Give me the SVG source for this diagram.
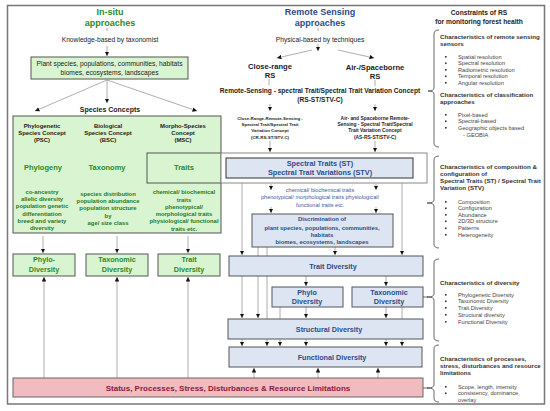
<svg xmlns="http://www.w3.org/2000/svg" width="550" height="411" viewBox="0 0 550 411">
<defs>
<marker id="ah" viewBox="0 0 6 6" refX="6" refY="3" markerWidth="4.5" markerHeight="4.5" markerUnits="userSpaceOnUse" orient="auto"><path d="M0,0 L6,3 L0,6 z" fill="#111"/></marker>
<style>
text{font-family:"Liberation Sans",Arial,sans-serif;text-anchor:middle}
.gt{fill:#2a8a2a;font-weight:bold}
.bt{fill:#2b4c8c;font-weight:bold}
.dk{fill:#222;font-weight:bold}
.gs{fill:#1f7a1f;font-weight:bold;font-size:5.9px}
.nt{fill:#222;font-size:6.7px}
.gbox{fill:#d9f4d0;stroke:#555;stroke-width:1}
.bbox{fill:#dde5f3;stroke:#555;stroke-width:1}
.ln{stroke:#999;stroke-width:0.8;fill:none}
.ar{stroke:#999;stroke-width:0.8;fill:none;marker-end:url(#ah)}
.rh{fill:#333;font-weight:bold;font-size:6.2px;text-anchor:start}
.rb{fill:#444;font-size:5.7px;text-anchor:start}
.br{stroke:#444;stroke-width:0.8;fill:none}
.bu{fill:#333}
</style>
</defs>
<rect x="7.5" y="5.5" width="537" height="398.5" fill="#fff" stroke="#777" stroke-width="1.5"/>

<g id="connectors">
<line class="ln" x1="107" y1="28" x2="107" y2="31"/>
<line class="ar" x1="107" y1="46" x2="107" y2="56"/>
<line class="ar" x1="107" y1="80" x2="35" y2="111"/>
<line class="ar" x1="107" y1="80" x2="107" y2="103"/>
<line class="ar" x1="107" y1="80" x2="197" y2="111"/>
<line class="ln" x1="41" y1="145" x2="41" y2="160"/>
<line class="ln" x1="107" y1="145" x2="107" y2="160"/>
<line class="ln" x1="183" y1="145" x2="183" y2="153"/>
<line class="ar" x1="41" y1="176" x2="41" y2="189"/>
<line class="ar" x1="107" y1="176" x2="107" y2="189"/>
<line class="ar" x1="183" y1="183" x2="183" y2="189"/>
<line class="ar" x1="43" y1="236" x2="43" y2="253"/>
<line class="ar" x1="117" y1="236" x2="117" y2="253"/>
<line class="ar" x1="188" y1="236" x2="188" y2="253"/>
<line class="ar" x1="44" y1="378" x2="44" y2="277"/>
<line class="ar" x1="117" y1="378" x2="117" y2="277"/>
<line class="ar" x1="188" y1="378" x2="188" y2="277"/>

<line class="ln" x1="318" y1="28" x2="318" y2="31"/>
<line class="ar" x1="318" y1="44" x2="318" y2="51"/>
<line class="ar" x1="312" y1="50" x2="277" y2="58"/>
<line class="ar" x1="338" y1="50" x2="374" y2="58"/>
<line class="ln" x1="269" y1="79" x2="269" y2="85"/>
<line class="ln" x1="375" y1="80" x2="375" y2="86"/>
<line class="ar" x1="270" y1="104" x2="270" y2="111"/>
<line class="ar" x1="375" y1="104" x2="375" y2="111"/>
<line class="ar" x1="270" y1="141" x2="270" y2="152"/>
<line class="ar" x1="375" y1="141" x2="375" y2="152"/>
<line class="ar" x1="271" y1="184" x2="271" y2="190"/>
<line class="ar" x1="376" y1="184" x2="376" y2="190"/>
<line class="ar" x1="271" y1="207" x2="271" y2="213"/>
<line class="ar" x1="376" y1="207" x2="376" y2="213"/>
<line class="ar" x1="242" y1="183" x2="242" y2="255"/>
<line class="ar" x1="402" y1="183" x2="402" y2="255"/>
<line class="ar" x1="335" y1="247" x2="335" y2="255"/>
<line class="ln" x1="258" y1="247" x2="258" y2="256"/>
<line class="ln" x1="267" y1="247" x2="267" y2="256"/>
<line class="ar" x1="242" y1="276" x2="242" y2="318"/>
<line class="ar" x1="258" y1="276" x2="258" y2="318"/>
<line class="ln" x1="267" y1="276" x2="267" y2="319"/>
<line class="ar" x1="306" y1="276" x2="306" y2="286"/>
<line class="ar" x1="386" y1="276" x2="386" y2="286"/>
<line class="ln" x1="280" y1="307" x2="280" y2="319"/>
<line class="ar" x1="306" y1="307" x2="306" y2="318"/>
<line class="ar" x1="386" y1="307" x2="386" y2="318"/>
<line class="ln" x1="402" y1="307" x2="402" y2="319"/>
<line class="ar" x1="242" y1="339" x2="242" y2="346"/>
<line class="ar" x1="267" y1="339" x2="267" y2="346"/>
<line class="ar" x1="280" y1="339" x2="280" y2="346"/>
<line class="ar" x1="306" y1="339" x2="306" y2="346"/>
<line class="ar" x1="386" y1="339" x2="386" y2="346"/>
<line class="ar" x1="402" y1="339" x2="402" y2="346"/>
<line class="ar" x1="254" y1="378" x2="254" y2="368"/>
<line class="ar" x1="318" y1="378" x2="318" y2="368"/>
<line class="ar" x1="378" y1="378" x2="378" y2="368"/>
<line class="br" x1="423" y1="297" x2="428" y2="297"/>
<line class="br" x1="423" y1="388" x2="428" y2="388"/>

<path class="br" d="M439,30 Q434,30 434,34 L434,88 Q434,91 428,91 Q434,91 434,94 L434,143 Q434,147 439,147"/>
<path class="br" d="M439,156 Q434,156 434,160 L434,200 Q434,203 427,203 Q434,203 434,206 L434,244 Q434,248 439,248"/>
<path class="br" d="M439,259 Q434,259 434,263 L434,294 Q434,297 427,297 Q434,297 434,300 L434,337 Q434,341 439,341"/>
<path class="br" d="M439,345 Q434,345 434,349 L434,385 Q434,388 427,388 Q434,388 434,391 L434,398 Q434,402 439,402"/>
</g>

<g id="insitu-title">
<text class="gt" x="110" y="15" font-size="9">In-situ</text>
<text class="gt" x="110" y="26" font-size="9">approaches</text>
<text class="nt" x="110" y="42.3">Knowledge-based by taxonomist</text>
</g>
<g id="plant-box">
<rect class="gbox" x="31" y="57" width="157" height="22"/>
<text class="nt" x="109.5" y="65.8">Plant species, populations, communities, habitats</text>
<text class="nt" x="109.5" y="75">biomes, ecosystems, landscapes</text>
</g>
<g id="species-concepts">
<text class="dk" x="110" y="111.5" font-size="7">Species  Concepts</text>
</g>
<g id="concepts-box">
<rect class="gbox" x="13" y="116" width="208" height="117"/>
<rect class="gbox" x="147" y="153" width="74" height="30"/>
<g font-size="5.9">
<text class="dk" x="42" y="128">Phylogenetic</text>
<text class="dk" x="42" y="135">Species Concept</text>
<text class="dk" x="42" y="142">(PSC)</text>
<text class="dk" x="108" y="128">Biological</text>
<text class="dk" x="108" y="135">Species Concept</text>
<text class="dk" x="108" y="142">(BSC)</text>
<text class="dk" x="183" y="128">Morpho-Species</text>
<text class="dk" x="183" y="135">Concept</text>
<text class="dk" x="183" y="142">(MSC)</text>
</g>
<text class="gt" x="43" y="169.6" font-size="7.5">Phylogeny</text>
<text class="gt" x="107" y="169.6" font-size="7.5">Taxonomy</text>
<text class="gt" x="184" y="169.6" font-size="7.5">Traits</text>
<text class="gs" x="42" y="194">co-ancestry</text>
<text class="gs" x="42" y="201">allelic diversity</text>
<text class="gs" x="42" y="208">population genetic</text>
<text class="gs" x="42" y="215.5">differentiation</text>
<text class="gs" x="42" y="222.5">breed and variety</text>
<text class="gs" x="42" y="229.5">diversity</text>
<text class="gs" x="108" y="196">species distribution</text>
<text class="gs" x="108" y="203">population abundance</text>
<text class="gs" x="108" y="210">population structure</text>
<text class="gs" x="108" y="217.5">by</text>
<text class="gs" x="108" y="225">age/ size class</text>
<text class="gs" x="184" y="194">chemical/ biochemical</text>
<text class="gs" x="184" y="201.5">traits</text>
<text class="gs" x="184" y="209">phenotypical/</text>
<text class="gs" x="184" y="216">morphological traits</text>
<text class="gs" x="184" y="223">physiological/ functional</text>
<text class="gs" x="184" y="231">traits etc.</text>
</g>
<g id="phylo-diversity-l">
<rect class="gbox" x="13" y="254" width="62" height="22"/>
<text class="gt" x="44" y="262" font-size="7.2">Phylo-</text>
<text class="gt" x="44" y="271.5" font-size="7.2">Diversity</text>
</g>
<g id="taxonomic-diversity-l">
<rect class="gbox" x="86" y="254" width="62" height="22"/>
<text class="gt" x="117" y="262" font-size="7.2">Taxonomic</text>
<text class="gt" x="117" y="271.5" font-size="7.2">Diversity</text>
</g>
<g id="trait-diversity-l">
<rect class="gbox" x="158" y="254" width="62" height="22"/>
<text class="gt" x="189" y="262" font-size="7.2">Trait</text>
<text class="gt" x="189" y="271.5" font-size="7.2">Diversity</text>
</g>

<g id="rs-title">
<text class="bt" x="320" y="15" font-size="9">Remote Sensing</text>
<text class="bt" x="320" y="26" font-size="9">approaches</text>
<text class="nt" x="320" y="42.3">Physical-based by techniques</text>
</g>
<g id="close-range">
<text class="dk" x="270" y="68.6" font-size="7.6">Close-range</text>
<text class="dk" x="270" y="77.6" font-size="7.6">RS</text>
</g>
<g id="airborne">
<text class="dk" x="375" y="69.6" font-size="7.6">Air-/Spaceborne</text>
<text class="dk" x="375" y="78.6" font-size="7.6">RS</text>
</g>
<g id="rs-concept">
<text class="dk" x="320" y="93.2" font-size="6.6">Remote-Sensing - spectral Trait/Spectral Trait Variation Concept</text>
<text class="dk" x="320" y="102.2" font-size="6.6">(RS-ST/STV-C)</text>
</g>
<g id="cr-concept" font-size="4.4">
<text class="dk" x="270" y="119.6">Close-Range-Remote-Sensing -</text>
<text class="dk" x="270" y="125.6">Spectral Trait/Spectral Trait</text>
<text class="dk" x="270" y="132">Variation Concept</text>
<text class="dk" x="270" y="138.6">(CR-RS-ST/STV-C)</text>
</g>
<g id="as-concept" font-size="4.9">
<text class="dk" x="375" y="119.8">Air- and Spaceborne Remote-</text>
<text class="dk" x="375" y="125.8">Sensing - Spectral Trait/Spectral</text>
<text class="dk" x="375" y="132.2">Trait Variation Concept</text>
<text class="dk" x="375" y="138.8">(AS-RS-ST/STV-C)</text>
</g>
<g id="spectral-traits">
<rect x="221" y="153" width="206" height="30" fill="#fff" stroke="#888" stroke-width="1"/>
<rect x="226" y="158" width="187" height="20" fill="#dde5f3" stroke="#333" stroke-width="1"/>
<text class="bt" x="320" y="166" font-size="7.3">Spectral Traits (ST)</text>
<text class="bt" x="320" y="175" font-size="7.3">Spectral Trait Variations (STV)</text>
</g>
<g id="trait-list" font-size="5.6" fill="#3a5a9a">
<text x="320" y="192">chemical/ biochemical traits</text>
<text x="320" y="198.9">phenotypical/ morphological traits physiological/</text>
<text x="320" y="206.9">functional traits etc.</text>
</g>
<g id="discrimination">
<rect class="bbox" x="252" y="214" width="141" height="33"/>
<g font-size="5.9">
<text class="bt" x="322" y="221.2">Discrimination of</text>
<text class="bt" x="322" y="229.8">plant species, populations, communities,</text>
<text class="bt" x="322" y="236.8">habitats</text>
<text class="bt" x="322" y="244.2">biomes, ecosystems, landscapes</text>
</g>
</g>
<g id="trait-diversity">
<rect class="bbox" x="229" y="256" width="194" height="20"/>
<text class="bt" x="333" y="268.6" font-size="7.2">Trait Diversity</text>
</g>
<g id="phylo-diversity">
<rect class="bbox" x="272" y="287" width="71" height="20"/>
<text class="bt" x="307" y="294.8" font-size="7.2">Phylo</text>
<text class="bt" x="307" y="304.4" font-size="7.2">Diversity</text>
</g>
<g id="taxonomic-diversity">
<rect class="bbox" x="352" y="287" width="71" height="20"/>
<text class="bt" x="389" y="294.8" font-size="7.2">Taxonomic</text>
<text class="bt" x="389" y="304.4" font-size="7.2">Diversity</text>
</g>
<g id="structural-diversity">
<rect class="bbox" x="228" y="319" width="195" height="20"/>
<text class="bt" x="329" y="331.6" font-size="7.2">Structural Diversity</text>
</g>
<g id="functional-diversity">
<rect class="bbox" x="229" y="347" width="193" height="20"/>
<text class="bt" x="332" y="359.6" font-size="7.2">Functional Diversity</text>
</g>
<g id="status">
<rect x="13" y="378" width="410" height="19" fill="#f1bcbf" stroke="#666" stroke-width="1"/>
<text x="228" y="390.8" font-size="8" font-weight="bold" fill="#8b1a3c">Status, Processes, Stress, Disturbances &amp; Resource Limitations</text>
</g>

<g id="constraints">
<text class="dk" x="479" y="15.4" font-size="6.7">Constraints of RS</text>
<text class="dk" x="479" y="24.4" font-size="6.7">for monitoring forest health</text>
<text class="rh" x="440" y="39">Characteristics of remote sensing</text>
<text class="rh" x="440" y="45.5">sensors</text>
<rect class="bu" x="445" y="56" width="1.6" height="1.6"/>
<rect class="bu" x="445" y="62.5" width="1.6" height="1.6"/>
<rect class="bu" x="445" y="69" width="1.6" height="1.6"/>
<rect class="bu" x="445" y="75.5" width="1.6" height="1.6"/>
<rect class="bu" x="445" y="82" width="1.6" height="1.6"/>
<text class="rb" x="458" y="58.9">Spatial resolution</text>
<text class="rb" x="458" y="65.4">Spectral resolution</text>
<text class="rb" x="458" y="71.9">Radiometric resolution</text>
<text class="rb" x="458" y="78.4">Temporal resolution</text>
<text class="rb" x="458" y="84.9">Angular resolution</text>
<text class="rh" x="440" y="97">Characteristics  of  classification</text>
<text class="rh" x="440" y="103.5">approaches</text>
<rect class="bu" x="445" y="114" width="1.6" height="1.6"/>
<rect class="bu" x="445" y="120.5" width="1.6" height="1.6"/>
<rect class="bu" x="445" y="127" width="1.6" height="1.6"/>
<text class="rb" x="458" y="116.9">Pixel-based</text>
<text class="rb" x="458" y="123.4">Spectral-based</text>
<text class="rb" x="458" y="129.9">Geographic objects based</text>
<text class="rb" x="463" y="137.2">- GEOBIA</text>

<text class="rh" x="440" y="169">Characteristics of  composition &amp;</text>
<text class="rh" x="440" y="176">configuration of</text>
<text class="rh" x="440" y="183">Spectral Traits (ST) / Spectral Trait</text>
<text class="rh" x="440" y="190">Variation (STV)</text>
<rect class="bu" x="445" y="201" width="1.6" height="1.6"/>
<rect class="bu" x="445" y="207.5" width="1.6" height="1.6"/>
<rect class="bu" x="445" y="214" width="1.6" height="1.6"/>
<rect class="bu" x="445" y="220.5" width="1.6" height="1.6"/>
<rect class="bu" x="445" y="227.5" width="1.6" height="1.6"/>
<rect class="bu" x="445" y="234" width="1.6" height="1.6"/>
<text class="rb" x="458" y="203.9">Composition</text>
<text class="rb" x="458" y="210.4">Configuration</text>
<text class="rb" x="458" y="216.9">Abundance</text>
<text class="rb" x="458" y="223.4">2D/3D structure</text>
<text class="rb" x="458" y="230.4">Patterns</text>
<text class="rb" x="458" y="236.9">Heterogeneity</text>

<text class="rh" x="440" y="285">Characteristics  of  diversity</text>
<rect class="bu" x="445" y="294" width="1.6" height="1.6"/>
<rect class="bu" x="445" y="300.5" width="1.6" height="1.6"/>
<rect class="bu" x="445" y="307" width="1.6" height="1.6"/>
<rect class="bu" x="445" y="314" width="1.6" height="1.6"/>
<rect class="bu" x="445" y="321" width="1.6" height="1.6"/>
<text class="rb" x="458" y="296.9">Phylogenetic Diversity</text>
<text class="rb" x="458" y="303.4">Taxonomic Diversity</text>
<text class="rb" x="458" y="309.9">Trait Diversity</text>
<text class="rb" x="458" y="316.9">Structural diversity</text>
<text class="rb" x="458" y="323.9">Functional Diversity</text>

<text class="rh" x="440" y="361">Characteristics of  processes,</text>
<text class="rh" x="440" y="368">stress, disturbances and resource</text>
<text class="rh" x="440" y="375">limitations</text>
<rect class="bu" x="445" y="386" width="1.6" height="1.6"/>
<rect class="bu" x="445" y="392.5" width="1.6" height="1.6"/>
<text class="rb" x="458" y="388.9">Scope, length, intensity</text>
<text class="rb" x="458" y="395.4">consistency, dominance,</text>
<text class="rb" x="458" y="401.6">overlay</text>
</g>
</svg>
